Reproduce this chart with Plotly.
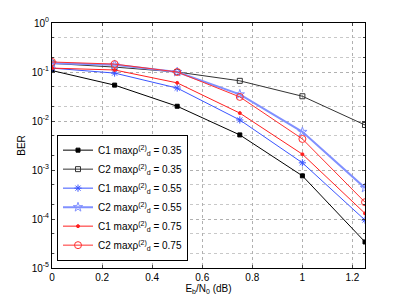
import plotly.graph_objects as go

ebn0 = [0, 0.25, 0.5, 0.75, 1.0, 1.25]
c1_035 = [0.107, 0.054, 0.020, 0.0052, 7.6e-4, 3.4e-5]
c2_035 = [0.15, 0.126, 0.10, 0.066, 0.032, 0.0083]
c1_055 = [0.12, 0.095, 0.047, 0.0105, 0.0014, 9.5e-5]
c2_055 = [0.15, 0.14, 0.10, 0.035, 0.006, 4.3e-4]
c1_075 = [0.12, 0.11, 0.06, 0.0145, 0.0021, 1.3e-4]
c2_075 = [0.16, 0.145, 0.10, 0.031, 0.0043, 2.2e-4]

ytick_vals = [1, 0.1, 0.01, 0.001, 1e-4, 1e-5]
ytick_text = ["10<sup>0</sup>", "10<sup>-1</sup>", "10<sup>-2</sup>",
              "10<sup>-3</sup>", "10<sup>-4</sup>", "10<sup>-5</sup>"]

lab = "maxρ<sup>(2)</sup><sub>d</sub>"
series = [
    ("C1 " + lab + " = 0.35", c1_035, "#000000", "square", 4, 1),
    ("C2 " + lab + " = 0.35", c2_035, "#333333", "square-open", 5, 1),
    ("C1 " + lab + " = 0.55", c1_055, "#3a55ff", "asterisk-open", 6, 1),
    ("C2 " + lab + " = 0.55", c2_055, "#8090ff", "star-open", 7, 2),
    ("C1 " + lab + " = 0.75", c1_075, "#ff2020", "circle", 3, 1),
    ("C2 " + lab + " = 0.75", c2_075, "#ff3030", "circle-open", 7, 1),
]

fig = go.Figure()
for name, ys, col, sym, sz, w in series:
    fig.add_trace(go.Scatter(
        x=ebn0, y=ys, name=name, mode="lines+markers",
        line=dict(color=col, width=w),
        marker=dict(symbol=sym, size=sz, color=col, line=dict(color=col, width=1)),
    ))

grid = dict(showgrid=True, gridcolor="#b0b0b0", griddash="dot", gridwidth=1)
fig.update_layout(
    width=395, height=295,
    margin=dict(l=44, r=38, t=15, b=35),
    paper_bgcolor="white", plot_bgcolor="white",
    font=dict(family="Liberation Sans, Arial", size=10, color="black"),
    showlegend=True,
    legend=dict(x=0.016, y=0.03, xanchor="left", yanchor="bottom",
                bgcolor="white", bordercolor="black", borderwidth=1,
                font=dict(size=10), tracegroupgap=0, itemwidth=30),
    xaxis=dict(range=[0, 1.25], dtick=0.2, tick0=0, ticks="inside", ticklen=3,
               showline=True, linecolor="black", mirror="ticks", zeroline=False,
               automargin=False,
               title=dict(text="E<sub>b</sub>/N<sub>0</sub> (dB)", standoff=2, font=dict(size=10)),
               **grid),
    yaxis=dict(type="log", range=[-5, 0], tickvals=ytick_vals, ticktext=ytick_text,
               ticks="inside", ticklen=3, showline=True, linecolor="black",
               mirror="ticks", zeroline=False, automargin=False,
               minor=dict(ticks="inside", ticklen=2, showgrid=True, gridcolor="#c8c8c8", griddash="dot"),
               title=dict(text="BER", standoff=4, font=dict(size=10)),
               **grid),
)
fig.write_html("out.html")
